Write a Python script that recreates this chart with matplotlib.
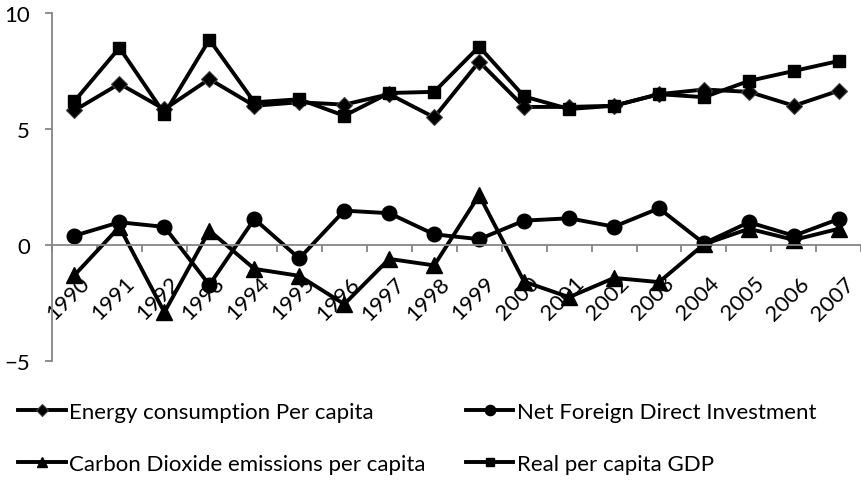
import matplotlib.pyplot as plt
from matplotlib.transforms import ScaledTranslation

plt.rcParams['font.family'] = ['Lato', 'DejaVu Sans']
plt.rcParams['font.size'] = 16

years = [str(y) for y in range(1990, 2008)]

energy = [5.8, 6.95, 5.85, 7.15, 6.0, 6.15, 6.05, 6.5, 5.5, 7.9,
          5.95, 5.95, 6.0, 6.5, 6.7, 6.6, 6.0, 6.65]
fdi = [0.4, 0.98, 0.78, -1.72, 1.12, -0.58, 1.48, 1.37, 0.46, 0.25,
       1.05, 1.15, 0.79, 1.58, 0.07, 0.98, 0.4, 1.12]
co2 = [-1.3, 0.78, -2.9, 0.62, -1.03, -1.33, -2.55, -0.6, -0.88, 2.15,
       -1.58, -2.25, -1.42, -1.6, 0.03, 0.7, 0.22, 0.7]
gdp = [6.2, 8.5, 5.65, 8.85, 6.15, 6.28, 5.57, 6.55, 6.6, 8.55,
       6.4, 5.86, 6.0, 6.5, 6.37, 7.07, 7.5, 7.93]

labels = ['Energy consumption Per capita', 'Net Foreign Direct Investment',
          'Carbon Dioxide emissions per capita', 'Real per capita GDP']

fig = plt.figure(figsize=(8.61, 4.81), dpi=100)
ax = fig.add_axes([0.0604, 0.2474, 0.94, 0.7236])

x = list(range(len(years)))
lw = 2.8
l_en, = ax.plot(x, energy, color='black', lw=lw, marker='D', ms=8.5,
                mec='#404040', mew=0.8)
l_fdi, = ax.plot(x, fdi, color='black', lw=lw, marker='o', ms=10.5)
l_co2, = ax.plot(x, co2, color='black', lw=lw, marker='^', ms=11)
l_gdp, = ax.plot(x, gdp, color='black', lw=lw, marker='s', ms=9)

ax.set_xlim(-0.5, len(years) - 0.5)
ax.set_ylim(-5, 10)
ax.set_yticks([-5, 0, 5, 10])

for s in ['top', 'right']:
    ax.spines[s].set_visible(False)
ax.spines['bottom'].set_position(('data', 0))
for s in ['left', 'bottom']:
    ax.spines[s].set_color('#868686')
    ax.spines[s].set_linewidth(1.3)

ax.tick_params(axis='y', length=5, width=1.3, color='#868686', pad=11,
               labelsize=16)
ax.set_xticks(x, years, rotation=45, ha='right', va='top',
              rotation_mode='anchor')
ax.set_xticks([i - 0.5 for i in range(len(years) + 1)], minor=True)
ax.tick_params(axis='x', which='major', length=0, pad=20, labelsize=16)
ax.tick_params(axis='x', which='minor', length=5, width=1.3,
               color='#868686', direction='out')

shift = ScaledTranslation(0.05, 0, fig.dpi_scale_trans)
for lab in ax.get_xticklabels():
    lab.set_transform(lab.get_transform() + shift)

fig.legend([l_en, l_co2, l_fdi, l_gdp],
           [labels[0], labels[2], labels[1], labels[3]],
           ncol=2, loc='upper left', bbox_to_anchor=(0.021, 0.163),
           frameon=False, fontsize=16, handlelength=2.15, handletextpad=0.15,
           labelspacing=1.45, columnspacing=1.8, markerscale=0.7,
           borderpad=0, borderaxespad=0)

fig.savefig('out.png', dpi=100)
